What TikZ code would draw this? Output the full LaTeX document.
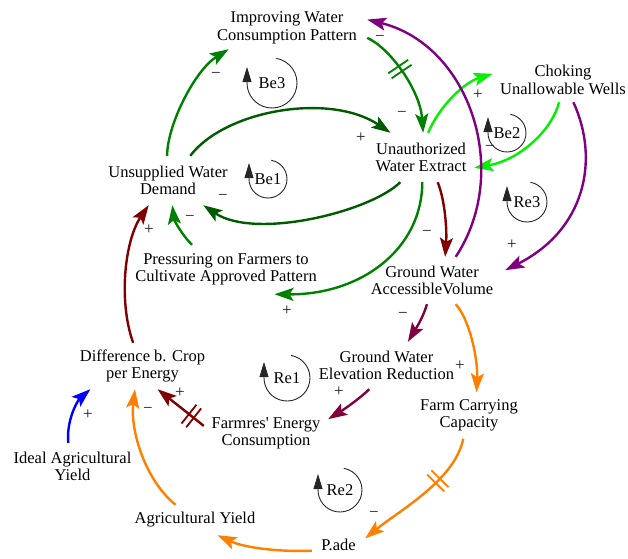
\documentclass[tikz,border=0pt]{standalone}
\usepackage{fontspec}
\setmainfont{Liberation Serif}[Ligatures=TeXOff]
\usetikzlibrary{arrows.meta,decorations.markings}

\definecolor{cgreen}{RGB}{0,128,0}
\definecolor{cdkgreen}{RGB}{0,90,0}
\definecolor{clime}{RGB}{0,240,0}
\definecolor{cpurple}{RGB}{128,0,128}
\definecolor{cdkred}{RGB}{128,0,0}
\definecolor{cmaroon}{RGB}{128,0,64}
\definecolor{corange}{RGB}{255,128,0}
\definecolor{cblue}{RGB}{0,0,255}

\newcommand\varfont{\fontsize{16.5}{17.5}\selectfont}
\newcommand\signfont{\fontsize{17}{17}\selectfont}

\begin{document}
\begin{tikzpicture}[x=1pt,y=-1pt,
  var/.style={align=center,inner sep=0pt,font=\varfont,text=black},
  link/.style={line width=2.4pt,-{Stealth[length=19pt,width=13pt,inset=4pt]}},
  sign/.style={font=\signfont,text=black!90,inner sep=0pt},
  loopmark/.style={draw=black!85,line width=0.9pt,-{Triangle[length=15pt,width=9pt]}},
  looplabel/.style={font=\varfont,inner sep=0pt},
  delay/.style 2 args={postaction={decorate,decoration={markings,
    mark=at position #1 with {\draw[#2,line width=1.8pt,-] (-3pt,-12pt)--(-3pt,12pt) (3pt,-12pt)--(3pt,12pt);}}}}
]
\useasboundingbox (0,0) rectangle (628,558);
\fill[white] (0,0) rectangle (628,558);

% variables
\node[var,minimum width=160pt,minimum height=42pt] (iwc) at (287,28) {Improving Water\\Consumption Pattern};
\node[var,minimum width=106pt,minimum height=49pt] (uwe) at (421,157.5) {Unauthorized\\Water Extract};
\node[var,minimum width=140pt,minimum height=44pt] (cuw) at (563,80) {Choking\\Unallowable Wells};
\node[var,minimum width=128pt,minimum height=49pt] (uwd) at (168,180.5) {Unsupplied Water\\Demand};
\node[var,minimum width=192pt,minimum height=49pt] (pfc) at (226,269.5) {Pressuring on Farmers to\\Cultivate Approved Pattern};
\node[var,minimum width=146pt,minimum height=47pt] (gwa) at (432,280.5) {Ground Water\\AccessibleVolume};
\node[var,minimum width=144pt,minimum height=47pt] (gwe) at (386.5,365.5) {Ground Water\\Elevation Reduction};
\node[var,minimum width=108pt,minimum height=46pt] (fcc) at (469,415.5) {Farm Carrying\\Capacity};
\node[var,minimum width=53pt,minimum height=20pt] (pade) at (338.5,545) {P.ade};
\node[var,minimum width=128pt,minimum height=30pt] (agy) at (195,520) {Agricultural Yield};
\node[var,minimum width=124pt,minimum height=47pt] (iay) at (72.5,466.5) {Ideal Agricultural\\Yield};
\node[var,minimum width=132pt,minimum height=46pt] (dce) at (142.5,366) {Difference b. Crop\\per Energy};
\node[var,minimum width=124pt,minimum height=36pt] (fec) at (266,433.5) {Farmres' Energy\\Consumption};

% causal links
\draw[link,cgreen] (uwd.92) .. controls (167,125) and (195,70) .. (iwc.-160.7);
\draw[link,cgreen,delay={0.4}{cgreen}] (iwc.-7.3) .. controls (390,48) and (420,90) .. (uwe.85.3);
\draw[link,cdkgreen] (uwd.48.1) .. controls (225,110) and (330,92) .. (uwe.141.7);
\draw[link,cdkgreen] (uwe.-130.6) .. controls (370,212) and (255,240) .. (uwd.-35.8);
\draw[link,cgreen] (pfc.144.2) .. controls (182,235) and (174,220) .. (uwd.-80.7);
\draw[link,cgreen] (uwe.-87.7) .. controls (422,250) and (360,295) .. (pfc.-27.1);
\draw[link,clime] (uwe.74) .. controls (440,105) and (465,82) .. (cuw.175.9);
\draw[link,clime] (cuw.-100.3) .. controls (552,130) and (520,160) .. (uwe.-11.6);
\draw[link,cpurple] (cuw.-65.6) .. controls (600,160) and (585,230) .. (gwa.8.2);
\draw[link,cpurple] (gwa.45.6) .. controls (512,172) and (470,45) .. (iwc.6.4);
\draw[link,cdkred] (uwe.-56.9) .. controls (445,200) and (447,230) .. (gwa.61);
\draw[link,cmaroon] (gwa.-102.5) .. controls (423,318) and (415,330) .. (gwe.48.9);
\draw[link,corange] (gwa.-45.6) .. controls (470,320) and (478,360) .. (fcc.72.7);
\draw[link,cmaroon] (gwe.-126.3) .. controls (358,400) and (343,410) .. (fec.13.6);
\draw[link,corange,delay={0.35}{corange}] (fcc.-104.3) .. controls (455,480) and (400,510) .. (pade.14.8);
\draw[link,corange] (pade.-168.9) .. controls (280,552) and (245,548) .. (agy.-34.3);
\draw[link,corange] (agy.142.1) .. controls (145,480) and (130,430) .. (dce.-108.8);
\draw[link,cdkred,delay={0.27}{cdkred}] (fec.173) -- (dce.-57.8);
\draw[link,cblue] (iay.100.8) .. controls (66,420) and (78,400) .. (dce.-156.5);
\draw[link,cdkred] (dce.112.4) .. controls (118,300) and (125,240) .. (uwd.-128.7);

% polarities
\node[sign] (s1) at (216,75) {−};
\node[sign] (s2) at (380,38) {−};
\node[sign] (s3) at (402,114) {−};
\node[sign] (s4) at (361,138) {+};
\node[sign] (s5) at (223,197) {−};
\node[sign] (s6) at (190,218) {−};
\node[sign] (s7) at (287,311) {+};
\node[sign] (s8) at (478,95) {+};
\node[sign] (s9) at (490,148) {−};
\node[sign] (s10) at (512,245) {+};
\node[sign] (s11) at (427,233) {−};
\node[sign] (s12) at (403,315) {−};
\node[sign] (s13) at (460,366) {+};
\node[sign] (s14) at (339,392) {+};
\node[sign] (s15) at (374,514) {−};
\node[sign] (s16) at (149,230) {+};
\node[sign] (s17) at (180,393) {+};
\node[sign] (s18) at (148,410) {−};
\node[sign] (s19) at (88,415) {+};

% loop identifiers
\node[looplabel] (be3) at (272,83) {Be3};
\draw[loopmark] (be3.center) ++(80:25pt) arc[start angle=80,end angle=-180,radius=25pt] -- ++(0pt,16pt);
\node[looplabel] (be1) at (268,179) {Be1};
\draw[loopmark] (be1.center) ++(80:19pt) arc[start angle=80,end angle=-180,radius=19pt] -- ++(0pt,16pt);
\node[looplabel] (be2) at (507,133) {Be2};
\draw[loopmark] (be2.center) ++(80:19pt) arc[start angle=80,end angle=-180,radius=19pt] -- ++(0pt,16pt);
\node[looplabel] (re3) at (527,202) {Re3};
\draw[loopmark] (re3.center) ++(80:20pt) arc[start angle=80,end angle=-180,radius=20pt] -- ++(0pt,16pt);
\node[looplabel] (re1) at (287,378) {Re1};
\draw[loopmark] (re1.center) ++(80:23pt) arc[start angle=80,end angle=-180,radius=23pt] -- ++(0pt,16pt);
\node[looplabel] (re2) at (340,490) {Re2};
\draw[loopmark] (re2.center) ++(80:22pt) arc[start angle=80,end angle=-180,radius=22pt] -- ++(0pt,16pt);
\end{tikzpicture}
\end{document}
